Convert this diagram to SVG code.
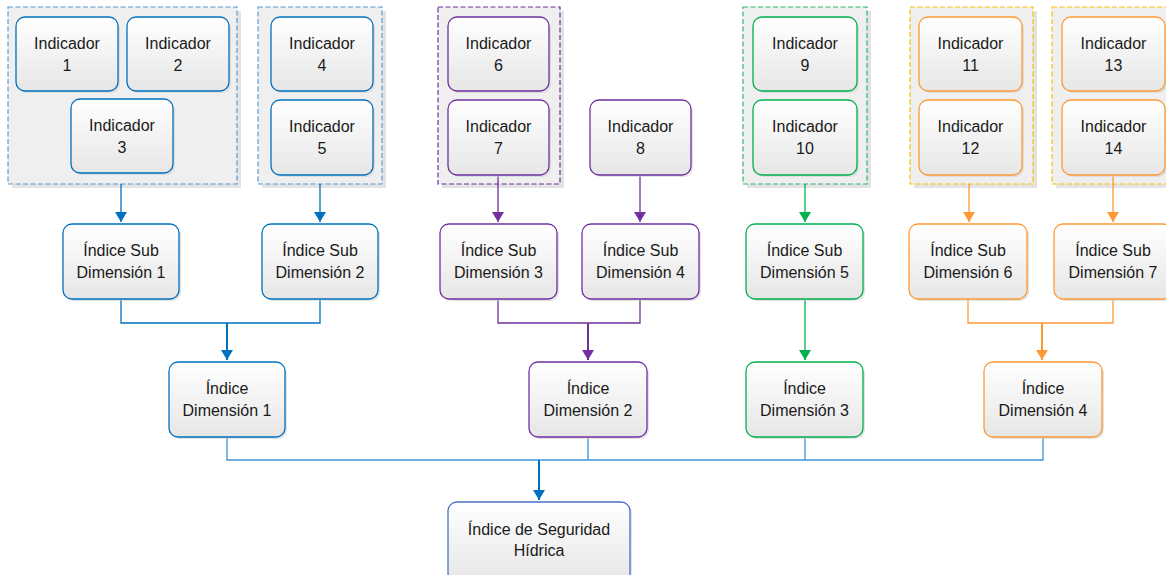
<svg xmlns="http://www.w3.org/2000/svg" width="1166" height="575" viewBox="0 0 1166 575">
<defs>
<linearGradient id="gbox" x1="0" y1="0" x2="0" y2="1">
<stop offset="0" stop-color="#FFFFFF"/>
<stop offset="1" stop-color="#E6E6E6"/>
</linearGradient>
<marker id="mBlue" viewBox="0 0 10 12" refX="10" refY="6" markerWidth="10" markerHeight="12" markerUnits="userSpaceOnUse" orient="auto"><path d="M0,0 L10,6 L0,12 z" fill="#0070C0"/></marker>
<marker id="mPurple" viewBox="0 0 10 12" refX="10" refY="6" markerWidth="10" markerHeight="12" markerUnits="userSpaceOnUse" orient="auto"><path d="M0,0 L10,6 L0,12 z" fill="#7030A0"/></marker>
<marker id="mGreen" viewBox="0 0 10 12" refX="10" refY="6" markerWidth="10" markerHeight="12" markerUnits="userSpaceOnUse" orient="auto"><path d="M0,0 L10,6 L0,12 z" fill="#00B050"/></marker>
<marker id="mOrange" viewBox="0 0 10 12" refX="10" refY="6" markerWidth="10" markerHeight="12" markerUnits="userSpaceOnUse" orient="auto"><path d="M0,0 L10,6 L0,12 z" fill="#FF9933"/></marker>
</defs>
<style>
text{font-family:"Liberation Sans",Arial,sans-serif;font-size:16px;fill:#1a1a1a;text-anchor:middle}
.shadow{fill:#D0D0D0;opacity:0.6}
.cont{fill:#EFEFEF;stroke-width:1.2;stroke-dasharray:5 2.5}
.box{fill:url(#gbox);stroke-width:1.3}
.cb{stroke:#5B9BD5}.cp{stroke:#7030A0}.cg{stroke:#2EB86A}.cy{stroke:#FFC000}
.b{stroke:#0070C0}.p{stroke:#7030A0}.g{stroke:#00B050}.o{stroke:#FF9933}.f{stroke:#4A72C8}
.ln{fill:none;stroke-width:1.3}
.lnb{fill:none;stroke-width:2}
</style>
<rect width="1166" height="575" fill="#FFFFFF"/>

<!-- containers -->
<g id="containers">
<rect class="shadow" x="12" y="11" width="229" height="177"/>
<rect class="cont cb" x="8" y="7" width="229" height="177"/>
<rect class="shadow" x="262" y="11" width="124" height="177"/>
<rect class="cont cb" x="258" y="7" width="124" height="177"/>
<rect class="shadow" x="442" y="11" width="122" height="177"/>
<rect class="cont cp" x="438" y="7" width="122" height="177"/>
<rect class="shadow" x="747" y="11" width="124" height="177"/>
<rect class="cont cg" x="743" y="7" width="124" height="177"/>
<rect class="shadow" x="914" y="11" width="123" height="177"/>
<rect class="cont cy" x="910" y="7" width="123" height="177"/>
<rect class="shadow" x="1056" y="11" width="124" height="177"/>
<rect class="cont cy" x="1052" y="7" width="124" height="177"/>
</g>

<!-- connectors -->
<g id="connectors">
<path class="ln b" d="M121,184 V222" marker-end="url(#mBlue)"/>
<path class="ln b" d="M320,184 V222" marker-end="url(#mBlue)"/>
<path class="ln b" d="M121,299 V323 H320 V299"/>
<path class="lnb b" d="M227,323 V360" marker-end="url(#mBlue)"/>
<path class="ln p" d="M498,175 V222" marker-end="url(#mPurple)"/>
<path class="ln p" d="M640,175 V222" marker-end="url(#mPurple)"/>
<path class="ln p" d="M498,299 V323 H640 V299"/>
<path class="lnb p" d="M588,323 V360" marker-end="url(#mPurple)"/>
<path class="ln g" d="M805,184 V222" marker-end="url(#mGreen)"/>
<path class="ln g" d="M805,299 V360" marker-end="url(#mGreen)"/>
<path class="ln o" d="M969,184 V222" marker-end="url(#mOrange)"/>
<path class="ln o" d="M1113,175 V222" marker-end="url(#mOrange)"/>
<path class="ln o" d="M968,299 V323 H1113 V299"/>
<path class="lnb o" d="M1042,323 V360" marker-end="url(#mOrange)"/>
<path class="ln" stroke="#3F95D6" d="M227,437 V460 H1043 V437 M588,437 V460 M805,437 V460"/>
<path class="lnb b" d="M539,460 V500" marker-end="url(#mBlue)"/>
</g>

<!-- indicators -->
<g id="ind1"><rect class="shadow" x="18" y="19" width="102" height="74" rx="9"/><rect class="box b" x="16" y="17" width="102" height="74" rx="9"/><text x="67" y="49">Indicador</text><text x="67" y="71">1</text></g>
<g id="ind2"><rect class="shadow" x="129" y="19" width="102" height="74" rx="9"/><rect class="box b" x="127" y="17" width="102" height="74" rx="9"/><text x="178" y="49">Indicador</text><text x="178" y="71">2</text></g>
<g id="ind3"><rect class="shadow" x="73" y="101" width="102" height="74" rx="9"/><rect class="box b" x="71" y="99" width="102" height="74" rx="9"/><text x="122" y="131">Indicador</text><text x="122" y="153">3</text></g>
<g id="ind4"><rect class="shadow" x="273" y="19" width="102" height="74" rx="9"/><rect class="box b" x="271" y="17" width="102" height="74" rx="9"/><text x="322" y="49">Indicador</text><text x="322" y="71">4</text></g>
<g id="ind5"><rect class="shadow" x="273" y="102" width="102" height="75" rx="9"/><rect class="box b" x="271" y="100" width="102" height="75" rx="9"/><text x="322" y="132">Indicador</text><text x="322" y="154">5</text></g>
<g id="ind6"><rect class="shadow" x="450" y="19" width="101" height="74" rx="9"/><rect class="box p" x="448" y="17" width="101" height="74" rx="9"/><text x="498.5" y="49">Indicador</text><text x="498.5" y="71">6</text></g>
<g id="ind7"><rect class="shadow" x="450" y="102" width="101" height="75" rx="9"/><rect class="box p" x="448" y="100" width="101" height="75" rx="9"/><text x="498.5" y="132">Indicador</text><text x="498.5" y="154">7</text></g>
<g id="ind8"><rect class="shadow" x="592" y="102" width="101" height="75" rx="9"/><rect class="box p" x="590" y="100" width="101" height="75" rx="9"/><text x="640.5" y="132">Indicador</text><text x="640.5" y="154">8</text></g>
<g id="ind9"><rect class="shadow" x="755" y="19" width="104" height="74" rx="9"/><rect class="box g" x="753" y="17" width="104" height="74" rx="9"/><text x="805" y="49">Indicador</text><text x="805" y="71">9</text></g>
<g id="ind10"><rect class="shadow" x="755" y="102" width="104" height="75" rx="9"/><rect class="box g" x="753" y="100" width="104" height="75" rx="9"/><text x="805" y="132">Indicador</text><text x="805" y="154">10</text></g>
<g id="ind11"><rect class="shadow" x="921" y="19" width="103" height="74" rx="9"/><rect class="box o" x="919" y="17" width="103" height="74" rx="9"/><text x="970.5" y="49">Indicador</text><text x="970.5" y="71">11</text></g>
<g id="ind12"><rect class="shadow" x="921" y="102" width="103" height="75" rx="9"/><rect class="box o" x="919" y="100" width="103" height="75" rx="9"/><text x="970.5" y="132">Indicador</text><text x="970.5" y="154">12</text></g>
<g id="ind13"><rect class="shadow" x="1064" y="19" width="103" height="74" rx="9"/><rect class="box o" x="1062" y="17" width="103" height="74" rx="9"/><text x="1113.5" y="49">Indicador</text><text x="1113.5" y="71">13</text></g>
<g id="ind14"><rect class="shadow" x="1064" y="102" width="103" height="75" rx="9"/><rect class="box o" x="1062" y="100" width="103" height="75" rx="9"/><text x="1113.5" y="132">Indicador</text><text x="1113.5" y="154">14</text></g>

<!-- sub dimensions -->
<g id="sd1"><rect class="shadow" x="65" y="226" width="116" height="75" rx="9"/><rect class="box b" x="63" y="224" width="116" height="75" rx="9"/><text x="121" y="256">Índice Sub</text><text x="121" y="278">Dimensión 1</text></g>
<g id="sd2"><rect class="shadow" x="264" y="226" width="116" height="75" rx="9"/><rect class="box b" x="262" y="224" width="116" height="75" rx="9"/><text x="320" y="256">Índice Sub</text><text x="320" y="278">Dimensión 2</text></g>
<g id="sd3"><rect class="shadow" x="442" y="226" width="117" height="75" rx="9"/><rect class="box p" x="440" y="224" width="117" height="75" rx="9"/><text x="498.5" y="256">Índice Sub</text><text x="498.5" y="278">Dimensión 3</text></g>
<g id="sd4"><rect class="shadow" x="584" y="226" width="117" height="75" rx="9"/><rect class="box p" x="582" y="224" width="117" height="75" rx="9"/><text x="640.5" y="256">Índice Sub</text><text x="640.5" y="278">Dimensión 4</text></g>
<g id="sd5"><rect class="shadow" x="748" y="226" width="117" height="75" rx="9"/><rect class="box g" x="746" y="224" width="117" height="75" rx="9"/><text x="804.5" y="256">Índice Sub</text><text x="804.5" y="278">Dimensión 5</text></g>
<g id="sd6"><rect class="shadow" x="911" y="226" width="118" height="75" rx="9"/><rect class="box o" x="909" y="224" width="118" height="75" rx="9"/><text x="968" y="256">Índice Sub</text><text x="968" y="278">Dimensión 6</text></g>
<g id="sd7"><rect class="shadow" x="1056" y="226" width="118" height="75" rx="9"/><rect class="box o" x="1054" y="224" width="118" height="75" rx="9"/><text x="1113" y="256">Índice Sub</text><text x="1113" y="278">Dimensión 7</text></g>

<!-- dimensions -->
<g id="d1"><rect class="shadow" x="171" y="364" width="116" height="75" rx="9"/><rect class="box b" x="169" y="362" width="116" height="75" rx="9"/><text x="227" y="394">Índice</text><text x="227" y="416">Dimensión 1</text></g>
<g id="d2"><rect class="shadow" x="531" y="364" width="118" height="75" rx="9"/><rect class="box p" x="529" y="362" width="118" height="75" rx="9"/><text x="588" y="394">Índice</text><text x="588" y="416">Dimensión 2</text></g>
<g id="d3"><rect class="shadow" x="748" y="364" width="117" height="75" rx="9"/><rect class="box g" x="746" y="362" width="117" height="75" rx="9"/><text x="804.5" y="394">Índice</text><text x="804.5" y="416">Dimensión 3</text></g>
<g id="d4"><rect class="shadow" x="986" y="364" width="118" height="75" rx="9"/><rect class="box o" x="984" y="362" width="118" height="75" rx="9"/><text x="1043" y="394">Índice</text><text x="1043" y="416">Dimensión 4</text></g>

<!-- final -->
<g id="final"><rect class="shadow" x="450" y="504" width="182" height="80" rx="9"/><rect class="box f" x="448" y="502" width="182" height="80" rx="9"/><text x="539" y="535">Índice de Seguridad</text><text x="539" y="556">Hídrica</text></g>
</svg>
